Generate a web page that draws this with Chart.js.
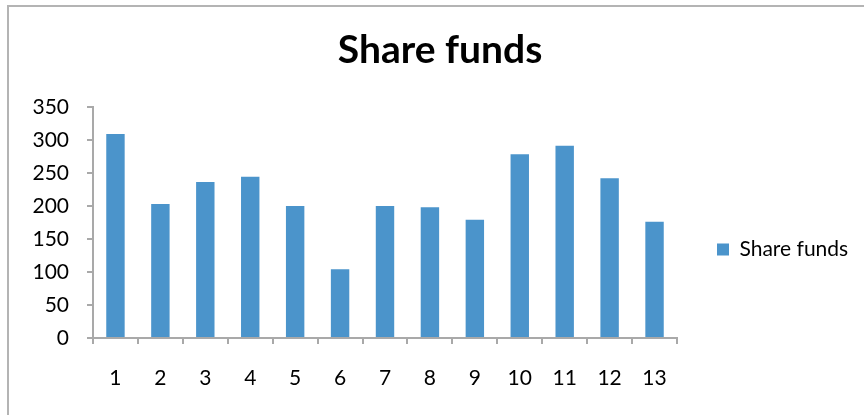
<!DOCTYPE html>
<html>
<head>
<meta charset="utf-8">
<script src="https://cdn.jsdelivr.net/npm/chart.js@4/dist/chart.umd.min.js"></script>
<style>
  html, body { margin: 0; padding: 0; background: #ffffff; }
  canvas { display: block; }
</style>
</head>
<body>
<canvas id="c" width="864" height="415"></canvas>
<script>
// ---- data ----
const categories = ['1','2','3','4','5','6','7','8','9','10','11','12','13'];
const shareFunds = [309, 203, 236, 244, 200, 104, 200, 198, 179, 278, 291, 242, 176];
const seriesName = 'Share funds';
const chartTitle = 'Share funds';
const yMin = 0, yMax = 350, yStep = 50;

// ---- style ----
const FONT = 'Lato';
const axisGray = '#a9a9a9';
const barBlue = '#4b94cb';
const tickFontSize = 21;
const legendFontSize = 21;
const legendBox = 12;
const legendPad = 40;

// measure legend text to size the right padding
const mctx = document.createElement('canvas').getContext('2d');
mctx.font = legendFontSize + 'px ' + FONT;
const textW = mctx.measureText(seriesName).width;
const legendW = legendPad + legendBox + legendFontSize / 2 + textW + 10;
const chartRight = 677;
const padRight = Math.max(0, 864 - chartRight - legendW);
const padLeft = 22;
const padBottom = 26;

const framePlugin = {
  id: 'frame',
  beforeDraw(chart) {
    const ctx = chart.ctx;
    ctx.save();
    ctx.fillStyle = '#ffffff';
    ctx.fillRect(0, 0, chart.width, chart.height);
    ctx.strokeStyle = '#b4b4b4';
    ctx.lineWidth = 2;
    ctx.beginPath();
    ctx.moveTo(8, 415);
    ctx.lineTo(8, 6);
    ctx.lineTo(864, 6);
    ctx.stroke();
    ctx.restore();
  }
};

new Chart(document.getElementById('c'), {
  type: 'bar',
  data: {
    labels: categories,
    datasets: [{
      label: seriesName,
      data: shareFunds,
      backgroundColor: barBlue,
      borderWidth: 0,
      barPercentage: 0.41,
      categoryPercentage: 1.0
    }]
  },
  options: {
    responsive: false,
    devicePixelRatio: 1,
    animation: false,
    layout: { padding: { left: padLeft, right: padRight, top: 0, bottom: padBottom } },
    plugins: {
      title: {
        display: true,
        text: chartTitle,
        color: '#000000',
        font: { family: FONT, size: 39, weight: 'bold', lineHeight: 1.2 },
        padding: { top: 27, bottom: 33 }
      },
      legend: {
        display: true,
        position: 'right',
        align: 'center',
        title: {
          display: true,
          text: ' ',
          font: { family: FONT, size: 1, lineHeight: 1 },
          padding: { top: 109, bottom: 0 }
        },
        labels: {
          boxWidth: legendBox,
          boxHeight: legendBox,
          padding: legendPad,
          color: '#000000',
          font: { family: FONT, size: legendFontSize }
        }
      },
      tooltip: { enabled: false }
    },
    scales: {
      x: {
        offset: true,
        grid: {
          display: true,
          offset: true,
          drawOnChartArea: false,
          drawTicks: true,
          tickLength: 6,
          color: axisGray,
          lineWidth: 2
        },
        border: { display: true, color: axisGray, width: 2 },
        ticks: {
          color: '#000000',
          font: { family: FONT, size: tickFontSize },
          padding: 22,
          maxRotation: 0,
          autoSkip: false
        },
        afterFit(scale) { scale.height = 51; }
      },
      y: {
        min: yMin,
        max: yMax,
        grid: {
          display: true,
          drawOnChartArea: false,
          drawTicks: true,
          tickLength: 6,
          color: axisGray,
          lineWidth: 2
        },
        border: { display: true, color: axisGray, width: 2 },
        ticks: {
          stepSize: yStep,
          color: '#000000',
          font: { family: FONT, size: tickFontSize },
          padding: 18
        },
        afterFit(scale) { scale.width = 93 - padLeft; }
      }
    }
  },
  plugins: [framePlugin]
});
</script>
</body>
</html>
